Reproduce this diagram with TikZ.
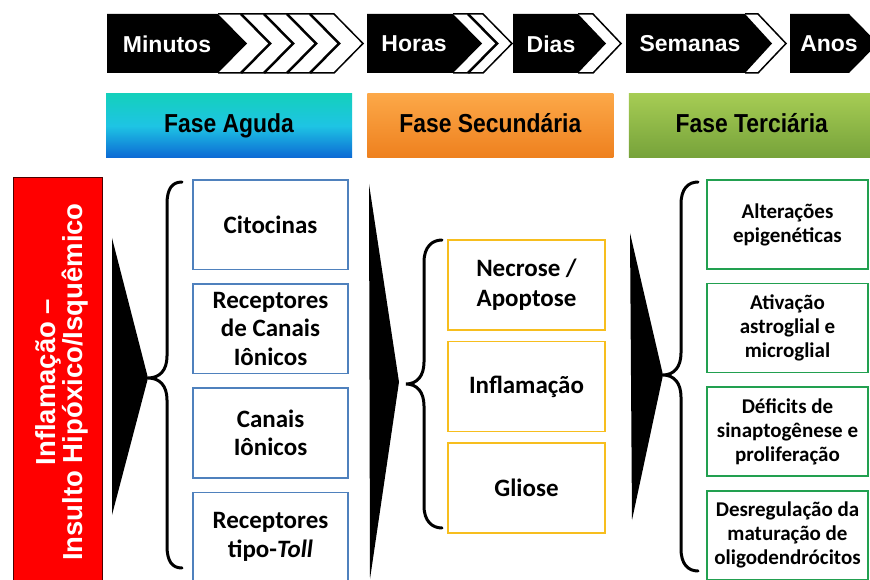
\documentclass[tikz,border=0pt]{standalone}
\usepackage{fontspec}
\setmainfont{Carlito}
\newfontfamily\arialfont{Liberation Sans}
\newfontfamily\narrowfont[FakeStretch=0.88]{Liberation Sans}
\usetikzlibrary{positioning}

\definecolor{itemblue}{RGB}{79,129,189}
\definecolor{itemgold}{RGB}{247,190,30}
\definecolor{itemgreen}{RGB}{34,160,80}

\begin{document}
\begin{tikzpicture}[x=1pt, y=-1pt, node distance=13pt,
    timelabel/.style={font=\arialfont\bfseries\fontsize{23}{26}\selectfont, text=white},
    phase/.style={minimum width=246pt, minimum height=64pt, inner sep=0pt,
        text height=18.5pt, text depth=5pt,
        font=\narrowfont\bfseries\fontsize{26}{28}\selectfont},
    item/.style={draw, line width=1.6pt, fill=white, align=center, inner sep=0pt},
    acute/.style={item, draw=itemblue, minimum width=155pt, minimum height=89.5pt,
        font=\bfseries\fontsize{25}{28.5}\selectfont},
    second/.style={item, draw=itemgold, minimum width=157pt, minimum height=90pt,
        font=\bfseries\fontsize{25}{30}\selectfont},
    third/.style={item, draw=itemgreen, minimum width=161pt, minimum height=89pt,
        font=\bfseries\fontsize{21}{24}\selectfont},
    curly/.style={line width=3pt, line cap=round},
    wedge/.style={fill=black}]
    \useasboundingbox (0,0) rectangle (870,580);
    \clip (0,0) rectangle (870,580);
    \fill[white] (0,0) rectangle (870,580);

    % time bar
    \fill (107,14) -- (218,14) -- (247,43.5) -- (218,73) -- (107,73) -- cycle;
    \draw[line width=1.5pt] (218,14) -- (334,14) -- (363,43.5) -- (334,73) -- (218,73);
    \foreach \x in {241,264,287,310}
        \draw[line width=2.5pt] (\x,14) -- (\x+29,43.5) -- (\x,73);
    \fill (367,14) -- (453,14) -- (482,43.5) -- (453,73) -- (367,73) -- cycle;
    \draw[line width=1.5pt] (453,14) -- (483,14) -- (512,43.5) -- (483,73) -- (453,73);
    \draw[line width=2.5pt] (468,14) -- (497,43.5) -- (468,73);
    \fill (513,14) -- (578,14) -- (606,43.5) -- (578,73) -- (513,73) -- cycle;
    \draw[line width=1.5pt] (578,14) -- (593,14) -- (621,43.5) -- (593,73) -- (578,73);
    \fill (626,14) -- (745,14) -- (772,43.5) -- (745,73) -- (626,73) -- cycle;
    \draw[line width=1.5pt] (745,14) -- (758,14) -- (786,43.5) -- (758,73) -- (745,73);
    \fill (790,14) -- (849,14) -- (878,43.5) -- (849,73) -- (790,73) -- cycle;

    \node[timelabel] (min) at (167,44) {Minutos};
    \node[timelabel] (hor) at (414,44) {Horas};
    \node[timelabel] (dia) at (551,44) {Dias};
    \node[timelabel] (sem) at (690,44) {Semanas};
    \node[timelabel] (ano) at (829,44) {Anos};

    % phases
    \node[phase, top color={rgb,255:red,20;green,208;blue,188}, bottom color={rgb,255:red,12;green,104;blue,212},
        middle color={rgb,255:red,30;green,196;blue,228}] (aguda) at (229,126) {Fase Aguda};
    \node[phase, top color={rgb,255:red,252;green,168;blue,72}, bottom color={rgb,255:red,238;green,128;blue,30},
        right=15pt of aguda] (secund) {Fase Secundária};
    \node[phase, top color={rgb,255:red,166;green,204;blue,84}, bottom color={rgb,255:red,118;green,162;blue,58},
        right=15pt of secund] (terc) {Fase Terciária};

    % insult
    \node[fill=red, draw=black!70!red, line width=1pt, minimum width=89pt, minimum height=406pt]
        (insulto) at (57.5,381) {};
    \node[rotate=90, align=center, text=white, font=\arialfont\bfseries\fontsize{27.5}{22}\selectfont]
        (insultotxt) at (62,382) {Inflamação –\\Insulto Hipóxico/Isquêmico};

    % acute
    \node[acute] (cito) at (270.5,224.75) {Citocinas};
    \node[acute, below=of cito] (rcan) {Receptores\\de Canais\\Iônicos};
    \node[acute, below=of rcan] (can) {Canais\\Iônicos};
    \node[acute, below=of can] (toll) {Receptores\\tipo-\textit{Toll}};

    % secondary
    \node[second] (necro) at (526.5,285) {Necrose /\\Apoptose};
    \node[second, below=10pt of necro] (infl) {Inflamação};
    \node[second, below=10pt of infl] (glio) {Gliose};

    % tertiary
    \node[third] (epig) at (787.5,224.5) {Alterações\\epigenéticas};
    \node[third, below=of epig] (ativ) {Ativação\\astroglial e\\microglial};
    \node[third, below=of ativ] (defic) {Déficits de\\sinaptogênese e\\proliferação};
    \node[third, below=of defic] (desreg) {Desregulação da\\maturação de\\oligodendrócitos};

    % wedges
    \fill[wedge] (112,238) -- (148,378) -- (112,515) -- cycle;
    \fill[wedge] (369,184) -- (399,382) -- (370,579) -- cycle;
    \fill[wedge] (630,233) -- (663,375) -- (632,520) -- cycle;

    % braces
    \draw[curly] (182,182) .. controls (172,182) and (167,189) .. (167,204) -- (167,356)
        .. controls (167,370) and (160,378) .. (148,378) .. controls (160,378) and (167,386) .. (167,400)
        -- (167,546) .. controls (167,561) and (172,568) .. (182,568);
    \draw[curly] (442,240) .. controls (432,240) and (424,247) .. (424,262) -- (424,362)
        .. controls (424,376) and (417,384) .. (406,384) .. controls (417,384) and (424,392) .. (424,406)
        -- (424,506) .. controls (424,521) and (432,528) .. (442,528);
    \draw[curly] (698,182) .. controls (688,182) and (681,189) .. (681,204) -- (681,353)
        .. controls (681,367) and (674,375) .. (663,375) .. controls (674,375) and (681,383) .. (681,397)
        -- (681,549) .. controls (681,564) and (688,571) .. (698,571);
\end{tikzpicture}
\end{document}
